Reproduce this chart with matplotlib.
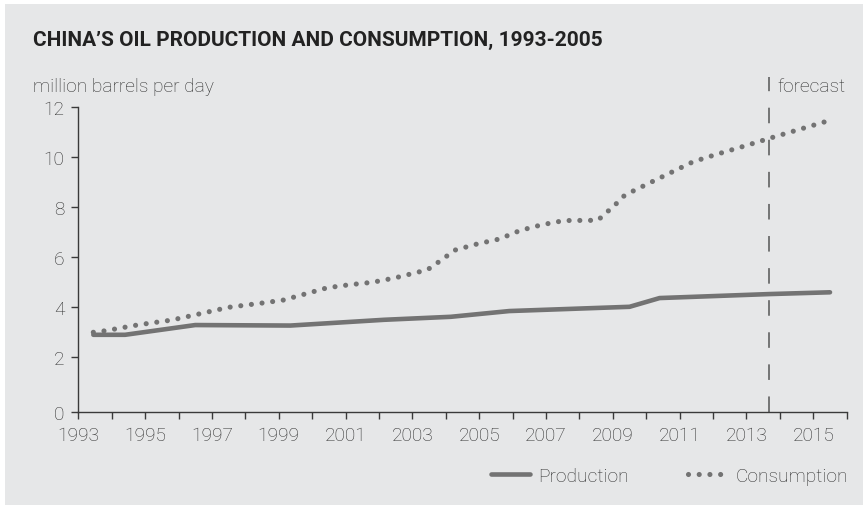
import matplotlib
matplotlib.use("Agg")
import matplotlib.pyplot as plt
from matplotlib.lines import Line2D
from matplotlib.patches import Rectangle

# ---- data ----
prod_years = [1993.45, 1994.4, 1996.5, 1999.35, 2002.15, 2004.15, 2005.9, 2009.5, 2010.4, 2013.7, 2015.5]
prod_vals = [2.9, 2.9, 3.29, 3.27, 3.5, 3.62, 3.85, 4.02, 4.37, 4.53, 4.6]

cons_years = [1993.45, 1993.8, 1994.8, 1995.8, 1996.47, 1997.5, 1998.5, 1999.14, 2000.45, 2001.1,
              2001.8, 2002.46, 2003.45, 2003.73, 2004.28, 2004.93, 2005.6, 2006.22, 2006.87, 2007.54,
              2008.55, 2009.07, 2009.32, 2009.59, 2010.2, 2011.4, 2012.06, 2013.04, 2013.69, 2015.5]
cons_vals = [3.0, 3.06, 3.3, 3.49, 3.69, 4.0, 4.17, 4.29, 4.78, 4.9,
             5.0, 5.17, 5.5, 5.76, 6.29, 6.53, 6.73, 7.07, 7.3, 7.47,
             7.48, 8.1, 8.44, 8.64, 9.04, 9.82, 10.1, 10.49, 10.76, 11.48]

forecast_year = 2013.67
y_tick_values = [0, 2, 4, 6, 8, 10, 12]

title = "CHINA\u2019S OIL PRODUCTION AND CONSUMPTION, 1993-2005"
unit_label = "million barrels per day"

# ---- style ----
plt.rcParams['font.family'] = ['Roboto', 'DejaVu Sans']
plt.rcParams['lines.scale_dashes'] = False
BG = '#e6e7e8'
LINE = '#737373'
TXT = '#2e2e2e'
AX = '#3a3a3a'
FS = 13.8
FW = 'light'

W, H = 863, 506
fig = plt.figure(figsize=(W / 100, H / 100), dpi=100)
fig.patch.set_facecolor('white')
fig.add_artist(Rectangle((5 / W, 0), 1, 1 - 5 / H, transform=fig.transFigure,
                         facecolor=BG, edgecolor='none', zorder=-10))

left, right = 78.3 / W, 846.7 / W
bottom, top = 1 - 413.3 / H, 1 - 108.3 / H
ax = fig.add_axes([left, bottom, right - left, top - bottom])
ax.set_facecolor('none')

ax.plot(prod_years, prod_vals, color=LINE, lw=3.3, solid_capstyle='round',
        solid_joinstyle='round', label='Production')
ax.plot(cons_years, cons_vals, color=LINE, lw=3.7, linestyle=(0, (0.01, 7.7)),
        dash_capstyle='round', label='Consumption')

# forecast divider
ax.plot([forecast_year, forecast_year], [-0.2, 13.2], color='#555555', lw=1.1,
        linestyle=(0, (11.2, 11.9)), clip_on=False)

ax.set_xlim(1993, 2016)
ax.set_ylim(-0.2, 12)
ax.set_xticks(range(1993, 2017))
ax.set_xticklabels([str(y) if (y - 1993) % 2 == 0 and y <= 2015 else '' for y in range(1993, 2017)])
ypos = [-0.2 if v == 0 else v for v in y_tick_values]
ax.set_yticks(ypos)
ax.set_yticklabels([str(v) for v in y_tick_values])

for s in ['top', 'right']:
    ax.spines[s].set_visible(False)
for s in ['left', 'bottom']:
    ax.spines[s].set_color(AX)
    ax.spines[s].set_linewidth(1.0)
ax.tick_params(axis='both', direction='out', length=5, width=1.0, color=AX,
               labelcolor=TXT, labelsize=FS)
ax.tick_params(axis='x', pad=5)
ax.tick_params(axis='y', pad=5)
for lab in ax.get_xticklabels() + ax.get_yticklabels():
    lab.set_fontweight(FW)

fig.text(33 / W, 1 - 40 / H, title, fontsize=15, fontweight='bold', color='#222222',
         ha='left', va='center')
fig.text(33 / W, 1 - 87 / H, unit_label, fontsize=FS, fontweight=FW, color=TXT,
         ha='left', va='center')
fig.text(777 / W, 1 - 87 / H, "forecast", fontsize=FS, fontweight=FW, color=TXT,
         ha='left', va='center')

handles = [Line2D([], [], color=LINE, lw=3.3, solid_capstyle='round'),
           Line2D([], [], color=LINE, lw=3.7, linestyle=(0, (0.01, 7.7)), dash_capstyle='round')]
leg = fig.legend(handles, ['Production', 'Consumption'], loc='center right',
                 bbox_to_anchor=(848 / W, 1 - 477 / H), ncol=2, frameon=False,
                 fontsize=FS, handlelength=2.05, handletextpad=0.42, columnspacing=3.1,
                 borderpad=0, borderaxespad=0)
for t in leg.get_texts():
    t.set_color(TXT)
    t.set_fontweight(FW)

fig.savefig('out.png', dpi=100, facecolor=fig.get_facecolor())
